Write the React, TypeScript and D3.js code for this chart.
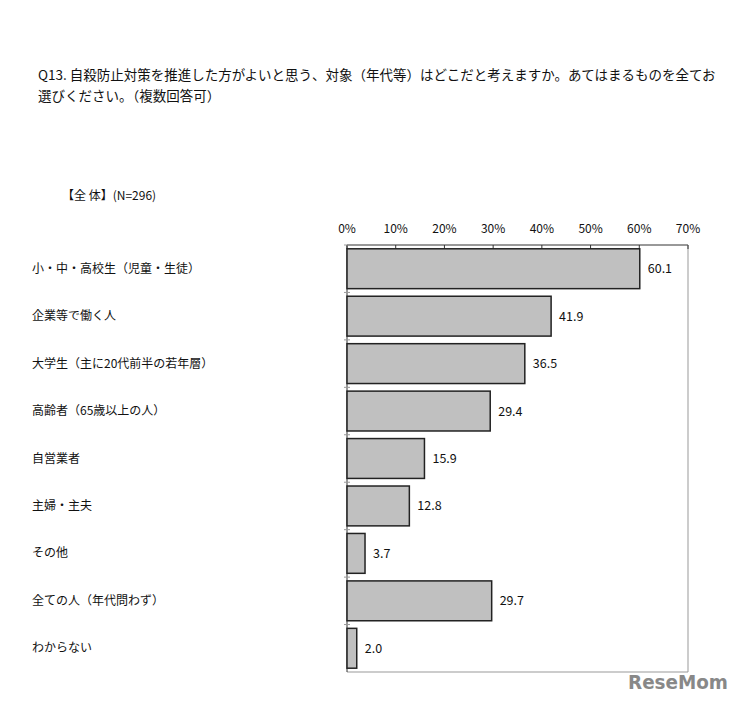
import React from "react";
import * as d3 from "d3";

const categories = [
  "小・中・高校生（児童・生徒）",
  "企業等で働く人",
  "大学生（主に20代前半の若年層）",
  "高齢者（65歳以上の人）",
  "自営業者",
  "主婦・主夫",
  "その他",
  "全ての人（年代問わず）",
  "わからない",
];
const values = [60.1, 41.9, 36.5, 29.4, 15.9, 12.8, 3.7, 29.7, 2.0];
const ticks = [0, 10, 20, 30, 40, 50, 60, 70];
const titleLines = [
  "Q13. 自殺防止対策を推進した方がよいと思う、対象（年代等）はどこだと考えますか。あてはまるものを全てお",
  "選びください。（複数回答可）",
];
const subtitle = "【全 体】(N=296)";

const W = 739, H = 701;
const left = 347, right = 688, top = 245, bottom = 672;
const font = "'Noto Sans CJK JP', 'Noto Sans', sans-serif";

export default function App() {
  const x = d3.scaleLinear().domain([0, 70]).range([left, right]);
  const y = d3.scaleBand<string>().domain(categories).range([top, bottom]).paddingInner(0.16).paddingOuter(0.08);
  const step = (bottom - top) / categories.length;
  return (
    <svg width={W} height={H} style={{ position: "absolute", left: 0, top: 0, background: "#fff" }} fontFamily={font}>
      <rect width={W} height={H} fill="#fff" />
      {titleLines.map((t, i) => (
        <text key={i} x={38} y={80 + i * 21} fontSize={13.5} fill="#111">{t}</text>
      ))}
      <text x={62} y={200} fontSize={12} fill="#111">{subtitle}</text>
      <line x1={left} x2={right} y1={top} y2={top} stroke="#333" strokeWidth={1} />
      <line x1={right} x2={right} y1={top} y2={bottom} stroke="#999" strokeWidth={1} />
      <line x1={left} x2={right} y1={bottom} y2={bottom} stroke="#999" strokeWidth={1} />
      <line x1={left} x2={left} y1={top} y2={bottom} stroke="#333" strokeWidth={1} />
      {ticks.map((t) => (
        <g key={t}>
          <line x1={x(t)} x2={x(t)} y1={top} y2={top + 4} stroke="#333" />
          <text x={x(t)} y={top - 12} fontSize={12} textAnchor="middle" fill="#111">{t}%</text>
        </g>
      ))}
      {categories.map((c, i) => (
        <line key={"t" + i} x1={left - 3} x2={left + 3} y1={top + step * i} y2={top + step * i} stroke="#999" />
      ))}
      {categories.map((c, i) => (
        <g key={c}>
          <text x={32} y={(y(c) ?? 0) + y.bandwidth() / 2 + 4} fontSize={12} fill="#111">{c}</text>
          <rect x={x(0)} y={y(c)} width={x(values[i]) - x(0)} height={y.bandwidth()} fill="#c0c0c0" stroke="#222" strokeWidth={1.5} />
          <text x={x(values[i]) + 8} y={(y(c) ?? 0) + y.bandwidth() / 2 + 4.5} fontSize={12.5} fill="#111">{values[i].toFixed(1)}</text>
        </g>
      ))}
      <text x={628} y={689} fontSize={19} fontWeight={900} fill="#888" fontFamily="'DejaVu Sans', sans-serif" textLength={100} lengthAdjust="spacingAndGlyphs">ReseMom</text>
    </svg>
  );
}
